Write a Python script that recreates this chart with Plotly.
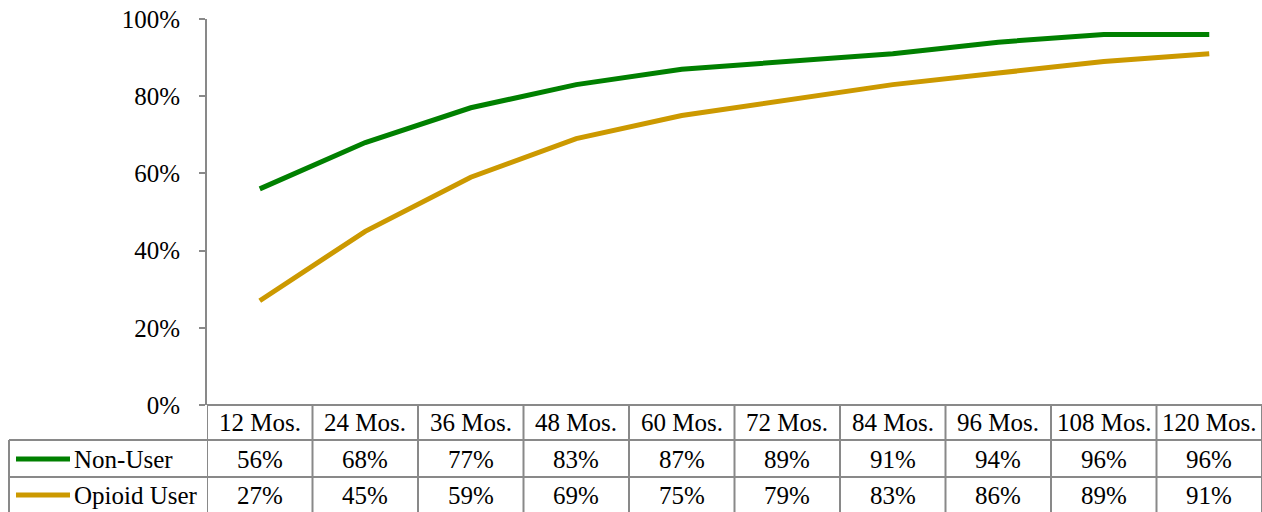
import plotly.graph_objects as go

# Cumulative percentages by months since start
periods = ["12 Mos.", "24 Mos.", "36 Mos.", "48 Mos.", "60 Mos.",
           "72 Mos.", "84 Mos.", "96 Mos.", "108 Mos.", "120 Mos."]
non_user = [56, 68, 77, 83, 87, 89, 91, 94, 96, 96]
opioid_user = [27, 45, 59, 69, 75, 79, 83, 86, 89, 91]
series_names = ["Non-User", "Opioid User"]
series_colors = ["#008000", "#CC9900"]

W, H = 1262, 512
L, T, B = 207, 19, 107           # plot area margins in px
PW, PH = W - L, H - T - B         # plot area size
GRID = "#898989"
FONT = "Liberation Serif, Times New Roman, serif"
FS = 25

def px_x(px):
    return (px - L) / PW

def px_y(py):
    return (H - B - py) / PH

fig = go.Figure()
n = len(periods)
xs = list(range(n))
for name, vals, col in zip(series_names, [non_user, opioid_user], series_colors):
    fig.add_trace(go.Scatter(
        x=xs, y=[v / 100 for v in vals], mode="lines", name=name,
        line=dict(color=col, width=5), showlegend=False,
        hoverinfo="skip"))

shapes = []
annotations = []
# column separators of the data table
for i in range(n + 1):
    shapes.append(dict(type="line", xref="x", yref="paper",
                       x0=i - 0.5, x1=i - 0.5, y0=px_y(405), y1=px_y(512),
                       line=dict(color=GRID, width=2)))
# left border of the series rows
shapes.append(dict(type="line", xref="paper", yref="paper",
                   x0=px_x(9), x1=px_x(9), y0=px_y(440), y1=px_y(512),
                   line=dict(color=GRID, width=2)))
# horizontal lines
shapes.append(dict(type="line", xref="paper", yref="paper",
                   x0=0, x1=1, y0=px_y(405), y1=px_y(405),
                   line=dict(color=GRID, width=2)))
for py in [440, 477]:
    shapes.append(dict(type="line", xref="paper", yref="paper",
                       x0=px_x(9), x1=1, y0=px_y(py), y1=px_y(py),
                       line=dict(color=GRID, width=2)))

txt_font = dict(family=FONT, size=FS, color="black")
# header labels
for i, p in enumerate(periods):
    annotations.append(dict(x=i, y=px_y(422.5), xref="x", yref="paper",
                            text=p, showarrow=False, xanchor="center",
                            yanchor="middle", font=txt_font))
# value rows with legend keys
row_centers = [459, 495]
for vals, name, col, cy in zip([non_user, opioid_user], series_names,
                               series_colors, row_centers):
    for i, v in enumerate(vals):
        annotations.append(dict(x=i, y=px_y(cy), xref="x", yref="paper",
                                text=f"{v}%", showarrow=False,
                                xanchor="center", yanchor="middle",
                                font=txt_font))
    shapes.append(dict(type="line", xref="paper", yref="paper",
                       x0=px_x(16), x1=px_x(70), y0=px_y(cy), y1=px_y(cy),
                       line=dict(color=col, width=5)))
    annotations.append(dict(x=px_x(72), y=px_y(cy), xref="paper", yref="paper",
                            text=name, showarrow=False, xanchor="left",
                            yanchor="middle", font=txt_font))

fig.update_layout(
    width=W, height=H,
    margin=dict(l=L, r=0, t=T, b=B),
    paper_bgcolor="white", plot_bgcolor="white",
    shapes=shapes, annotations=annotations,
    xaxis=dict(range=[-0.5, n - 0.5], showticklabels=False, showgrid=False,
               zeroline=False, showline=False, ticks=""),
    yaxis=dict(range=[0, 1], tickvals=[0, 0.2, 0.4, 0.6, 0.8, 1.0],
               tickformat=".0%", showgrid=False, zeroline=False,
               showline=True, linecolor=GRID, linewidth=2,
               ticks="outside", ticklen=6, tickcolor=GRID, tickwidth=2,
               ticklabelstandoff=14, tickfont=txt_font),
)

fig.write_html("out.html")
